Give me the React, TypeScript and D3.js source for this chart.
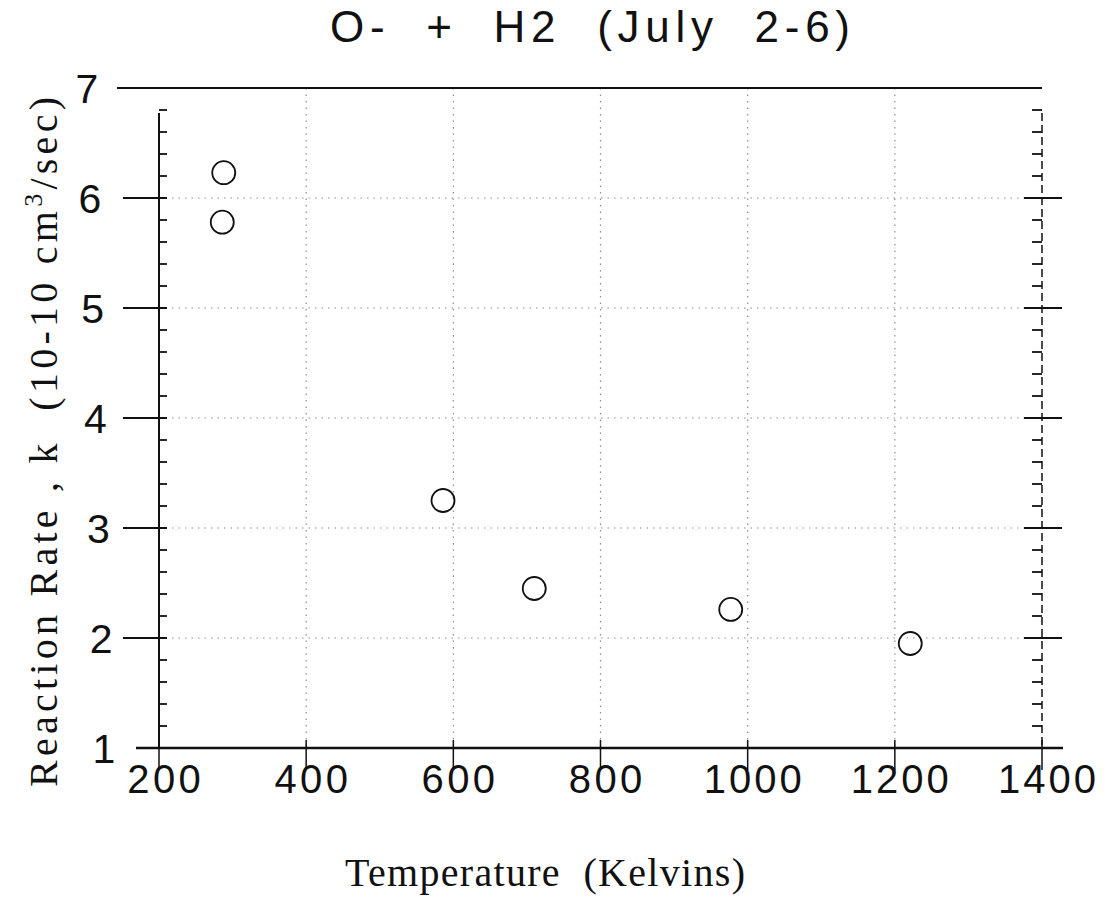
import React from "react";
import * as d3 from "d3";

const temperatures = [288, 286, 586, 710, 977, 1221];
const rates = [6.23, 5.78, 3.25, 2.45, 2.26, 1.95];
const xTicks = [200, 400, 600, 800, 1000, 1200, 1400];
const yTicks = [1, 2, 3, 4, 5, 6, 7];
const xGrid = [400, 600, 800, 1000, 1200];
const yGrid = [2, 3, 4, 5, 6];
const title = "O-  +  H2  (July  2-6)";
const xLabel = "Temperature  (Kelvins)";

export default function App() {
  const W = 1110, H = 922;
  const x = d3.scaleLinear().domain([200, 1400]).range([159, 1042]);
  const y = d3.scaleLinear().domain([1, 7]).range([748, 88]);
  const labelX = d3.scaleLinear().domain([1, 7]).range([104, 87]);
  const minor = d3.range(1, 7.001, 0.2).filter((v) => Math.abs(v - Math.round(v)) > 0.01);
  const sans = "'Liberation Sans', Arial, sans-serif";
  const serif = "'Liberation Serif', 'Times New Roman', serif";
  return (
    <svg width={W} height={H} style={{ position: "absolute", left: 0, top: 0, background: "#fff" }}>
      <rect x={0} y={0} width={W} height={H} fill="#fff" />
      {/* grid */}
      {xGrid.map((v) => (
        <line key={"gx" + v} x1={x(v)} x2={x(v)} y1={y(7)} y2={y(1)} stroke="#333" strokeWidth={1.2} strokeDasharray="1.5,5" opacity={0.55} />
      ))}
      {yGrid.map((v) => (
        <line key={"gy" + v} x1={x(200)} x2={x(1400)} y1={y(v)} y2={y(v)} stroke="#333" strokeWidth={1.2} strokeDasharray="1.5,5" opacity={0.55} />
      ))}
      {/* frame */}
      <line x1={117} x2={x(1400)} y1={y(7)} y2={y(7)} stroke="#111" strokeWidth={2.2} />
      <line x1={136} x2={1063} y1={y(1)} y2={y(1)} stroke="#111" strokeWidth={2.5} />
      <line x1={x(200)} x2={x(200)} y1={y(7) + 25} y2={y(1)} stroke="#111" strokeWidth={2} />
      <line x1={x(1400)} x2={x(1400)} y1={y(7) + 25} y2={y(1)} stroke="#111" strokeWidth={1.5} strokeDasharray="8,4" />
      {/* left/right major ticks */}
      {yTicks.slice(1, 6).map((v) => (
        <g key={"my" + v}>
          <line x1={x(200) - 36} x2={x(200) + 8} y1={y(v)} y2={y(v)} stroke="#111" strokeWidth={2} />
          <line x1={x(1400) - 18} x2={x(1400) + 20} y1={y(v)} y2={y(v)} stroke="#111" strokeWidth={2} />
        </g>
      ))}
      {minor.map((v) => (
        <g key={"mn" + v.toFixed(1)}>
          <line x1={x(200)} x2={x(200) + 8} y1={y(v)} y2={y(v)} stroke="#111" strokeWidth={1.8} />
          <line x1={x(1400) - 10} x2={x(1400)} y1={y(v)} y2={y(v)} stroke="#111" strokeWidth={1.8} />
        </g>
      ))}
      {/* x ticks */}
      {xTicks.map((v) => (
        <line key={"xt" + v} x1={x(v)} x2={x(v)} y1={y(1) - 8} y2={y(1) + 22} stroke="#111" strokeWidth={1.5} />
      ))}
      {xTicks.map((v) => (
        <text key={"xl" + v} x={x(v) + 5} y={793} textAnchor="middle" fontFamily={sans} fontSize={40} fill="#111"
          textLength={String(v).length * 24.5} lengthAdjust="spacing">{v}</text>
      ))}
      {yTicks.map((v) => (
        <text key={"yl" + v} x={labelX(v)} y={y(v) + 15} textAnchor="middle" fontFamily={sans} fontSize={41} fill="#111">{v}</text>
      ))}
      {/* points */}
      {temperatures.map((t, i) => (
        <circle key={"p" + i} cx={x(t)} cy={y(rates[i])} r={11.5} fill="none" stroke="#111" strokeWidth={1.8} />
      ))}
      {/* title */}
      <text x={590} y={42} textAnchor="middle" fontFamily={sans} fontSize={44} fill="#111" style={{ whiteSpace: "pre" }}
        textLength={520} lengthAdjust="spacing">{title}</text>
      {/* axis labels */}
      <text x={545} y={886} textAnchor="middle" fontFamily={serif} fontSize={40} fill="#111" style={{ whiteSpace: "pre" }}
        textLength={400} lengthAdjust="spacing">{xLabel}</text>
      <text transform="translate(57,442) rotate(-90)" textAnchor="middle" fontFamily={serif} fontSize={40} fill="#111" style={{ whiteSpace: "pre" }}
        textLength={690} lengthAdjust="spacing">
        Reaction Rate , k  (10-10 cm<tspan dy={-15} fontSize={26}>3</tspan><tspan dy={15}>/sec)</tspan>
      </text>
    </svg>
  );
}
